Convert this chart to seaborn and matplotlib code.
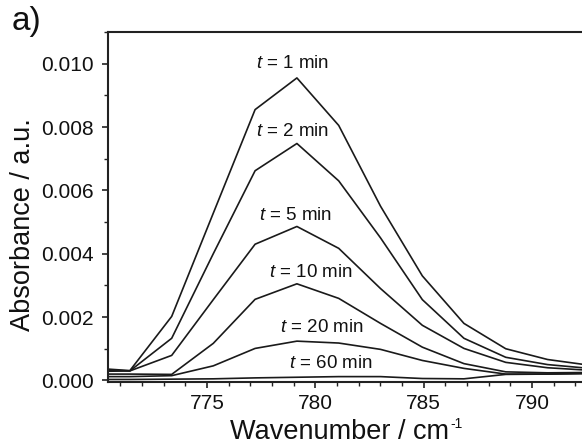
import numpy as np
import pandas as pd
import matplotlib
matplotlib.use("Agg")
import matplotlib.pyplot as plt
from matplotlib.ticker import MultipleLocator, FormatStrFormatter
import seaborn as sns

# ---- data ----
wavenumber = [769.51, 771.44, 773.37, 775.29, 777.22, 779.15, 781.08,
              783.01, 784.94, 786.86, 788.79, 790.72, 792.65]
abs_t1 = [0.00040, 0.00031, 0.00202, 0.00528, 0.00855, 0.00955, 0.00805,
          0.00550, 0.00330, 0.00180, 0.00100, 0.00066, 0.00048]
abs_t2 = [0.00034, 0.00030, 0.00133, 0.00400, 0.00662, 0.00748, 0.00630,
          0.00450, 0.00255, 0.00133, 0.00073, 0.00050, 0.00038]
abs_t5 = [0.00028, 0.00030, 0.00079, 0.00255, 0.00430, 0.00486, 0.00417,
          0.00290, 0.00174, 0.00101, 0.00057, 0.00040, 0.00032]
abs_t10 = [0.00020, 0.00020, 0.00019, 0.00117, 0.00256, 0.00305, 0.00259,
           0.00180, 0.00105, 0.00053, 0.00027, 0.00024, 0.00025]
abs_t20 = [0.00012, 0.00012, 0.00015, 0.00046, 0.00101, 0.00124, 0.00118,
           0.00098, 0.00063, 0.00038, 0.00020, 0.00020, 0.00022]
abs_t60 = [0.00003, 0.00003, 0.00004, 0.00005, 0.00008, 0.00010, 0.00012,
           0.00012, 0.00006, 0.00005, 0.00019, 0.00020, 0.00022]
times = ["1", "2", "5", "10", "20", "60"]
series = [abs_t1, abs_t2, abs_t5, abs_t10, abs_t20, abs_t60]
label_x = [778.97, 778.97, 779.10, 779.80, 780.30, 780.70]
label_y = [0.00987, 0.00773, 0.00506, 0.00326, 0.00153, 0.00039]

df = pd.DataFrame({
    "wn": np.tile(wavenumber, len(times)),
    "A": np.concatenate(series),
    "t": np.repeat(times, len(wavenumber)),
})

sns.set_theme(style="ticks")
plt.rcParams["font.family"] = ["Liberation Sans", "DejaVu Sans"]
plt.rcParams["mathtext.fontset"] = "custom"
plt.rcParams["mathtext.rm"] = "Liberation Sans"
plt.rcParams["mathtext.it"] = "Liberation Sans:italic"

fig = plt.figure(figsize=(5.82, 4.47), dpi=100)
ax = fig.add_axes([108 / 582, 1 - 382 / 447, 474 / 582, 350 / 447])

line_col = "#1a1a1a"
sns.lineplot(data=df, x="wn", y="A", hue="t", units="t", estimator=None,
             sort=False, palette=[line_col] * len(times), linewidth=1.2,
             legend=False, ax=ax)

ax.set_xlim(770.43, 792.31)
ax.set_ylim(-0.00005, 0.011)
ax.xaxis.set_major_locator(MultipleLocator(5))
ax.xaxis.set_minor_locator(MultipleLocator(1))
ax.yaxis.set_major_locator(MultipleLocator(0.002))
ax.yaxis.set_minor_locator(MultipleLocator(0.001))
ax.yaxis.set_major_formatter(FormatStrFormatter("%.3f"))

for side in ["left", "bottom", "top"]:
    ax.spines[side].set_visible(True)
    ax.spines[side].set_linewidth(1.5)
    ax.spines[side].set_color("#222222")
ax.spines["right"].set_visible(False)

ax.tick_params(axis="both", which="major", direction="out", length=4.5,
               width=1.2, labelsize=15, color="#222222", labelcolor="#111111")
ax.tick_params(axis="both", which="minor", direction="out", length=3,
               width=1.0, color="#222222")
ax.tick_params(axis="x", pad=4)
ax.tick_params(axis="y", pad=6)
ax.tick_params(top=False, right=False, which="both")

ax.set_xlabel("Wavenumber / cm", fontsize=19.5, color="#111111")
ax.set_ylabel("Absorbance / a.u.", fontsize=19.5, color="#111111")
ax.xaxis.set_label_coords(0.489, -0.105)
ax.yaxis.set_label_coords(-0.152, 0.449)

for t, lx, ly in zip(times, label_x, label_y):
    ax.text(lx, ly, r"$\it{t}$ = " + t + " min", ha="center", va="baseline",
            fontsize=13.5, color="#111111")

fig.text(12 / 582, 1 - 30 / 447, "a)", fontsize=24, ha="left", va="baseline",
         color="#111111")

# superscript "-1" placed right after the x label
fig.canvas.draw()
bb = ax.xaxis.label.get_window_extent()
fig.text((bb.x1 + 1) / 582, 1 - 428 / 447, "-1", fontsize=10, ha="left",
         va="baseline", color="#111111")

fig.savefig("out.png", dpi=100)
